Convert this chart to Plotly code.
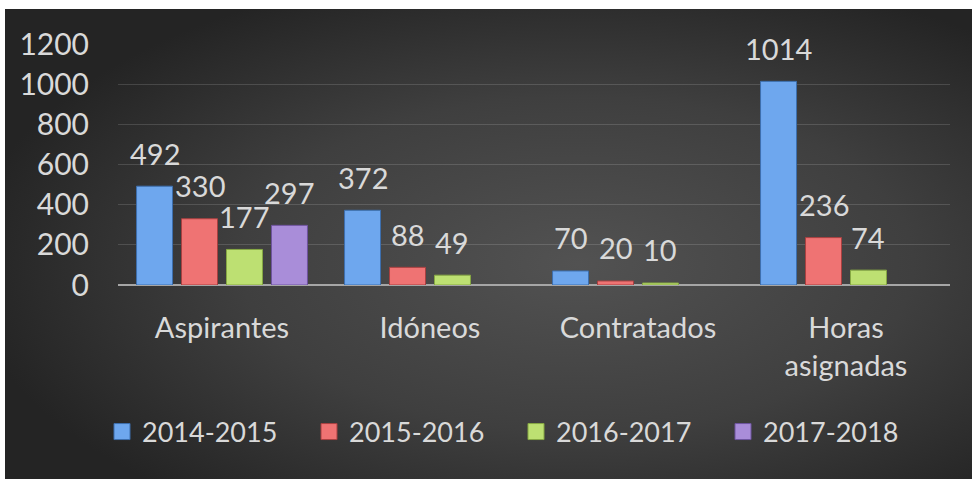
import base64
import plotly.graph_objects as go

categories = ["Aspirantes", "Idóneos", "Contratados", "Horas<br>asignadas"]
series_names = ["2014-2015", "2015-2016", "2016-2017", "2017-2018"]
v_2014_2015 = [492, 372, 70, 1014]
v_2015_2016 = [330, 88, 20, 236]
v_2016_2017 = [177, 49, 10, 74]
v_2017_2018 = [297, None, None, None]
y_ticks = [0, 200, 400, 600, 800, 1000, 1200]

series_values = [v_2014_2015, v_2015_2016, v_2016_2017, v_2017_2018]
fill_colors = ["#6ea7ee", "#ef7373", "#bde072", "#a98dd9"]
line_colors = ["#3d6fae", "#a94040", "#86a843", "#6f54a0"]

W, H = 972, 479
L, R, T, B = 118, 22, 44, 194
TXT = "#d9d9d9"
FONT = "Lato"

svg = '''<svg xmlns="http://www.w3.org/2000/svg" width="1000" height="500" viewBox="0 0 1000 500" preserveAspectRatio="none">
<defs><radialGradient id="g" cx="58%" cy="52%" r="62%">
<stop offset="0%" stop-color="#525252"/>
<stop offset="55%" stop-color="#3f3f3f"/>
<stop offset="100%" stop-color="#242424"/>
</radialGradient></defs>
<rect width="1000" height="500" fill="url(#g)"/></svg>'''
src = "data:image/svg+xml;base64," + base64.b64encode(svg.encode()).decode()

fig = go.Figure()
for name, vals, fc, lc in zip(series_names, series_values, fill_colors, line_colors):
    fig.add_trace(go.Bar(
        x=categories, y=vals, name=name, showlegend=False,
        marker=dict(color=fc, line=dict(color=lc, width=1)),
    ))
# legend entries with square swatches
for name, fc, lc in zip(series_names, fill_colors, line_colors):
    fig.add_trace(go.Scatter(
        x=[None], y=[None], name=name, mode="markers",
        marker=dict(symbol="square", size=17, color=fc, line=dict(color=lc, width=1)),
    ))

bargap = 0.135
slot = (1 - bargap) / len(series_names)
annotations = []
for si, vals in enumerate(series_values):
    for ci, v in enumerate(vals):
        if v:
            annotations.append(dict(
                x=ci + (si - 1.5) * slot, y=v, xref="x", yref="y",
                text=str(v), showarrow=False, yanchor="middle", yshift=33,
                font=dict(family=FONT, size=29, color=TXT),
            ))

pw = W - L - R
ph = H - T - B
fig.add_layout_image(dict(
    source=src, xref="paper", yref="paper",
    x=(5 - L) / pw, y=(H - B - 9) / ph,
    sizex=(W + 20 - 5) / pw, sizey=(H + 20 - 9) / ph,
    sizing="stretch", layer="below", xanchor="left", yanchor="top",
))

# white page margins at left and top (outside the chart area)
fig.add_shape(type="rect", xref="paper", yref="paper", layer="below",
              x0=-L / pw - 0.05, x1=(5 - L) / pw, y0=-B / ph - 0.1, y1=(H - B) / ph + 0.1,
              fillcolor="white", line=dict(width=0))
fig.add_shape(type="rect", xref="paper", yref="paper", layer="below",
              x0=-L / pw - 0.05, x1=1 + R / pw + 0.05, y0=(H - B - 9) / ph, y1=(H - B) / ph + 0.1,
              fillcolor="white", line=dict(width=0))

fig.update_layout(
    width=W, height=H,
    margin=dict(l=L, r=R, t=T, b=B, pad=0),
    paper_bgcolor="#262626", plot_bgcolor="rgba(0,0,0,0)",
    barmode="group", bargap=bargap, bargroupgap=0.2,
    font=dict(family=FONT, size=28, color=TXT),
    annotations=annotations,
    showlegend=True,
    legend=dict(orientation="h", x=(516 - L) / pw, xanchor="center", y=(H - B - 432) / ph, yanchor="middle",
                font=dict(family=FONT, size=27, color=TXT), entrywidth=162, entrywidthmode="pixels",
                bgcolor="rgba(0,0,0,0)", itemwidth=30),
    xaxis=dict(type="category", showgrid=False, showline=False, ticks="",
               tickfont=dict(family=FONT, size=29, color=TXT), ticklabelstandoff=23),
    yaxis=dict(range=[0, 1200], tickvals=y_ticks, showgrid=True,
               gridcolor="rgba(255,255,255,0.14)", gridwidth=1,
               zeroline=True, zerolinecolor="#a6a6a6", zerolinewidth=2,
               showline=False, ticks="", ticklabelstandoff=28,
               tickfont=dict(family=FONT, size=30, color=TXT)),
)

fig.write_html("out.html")
